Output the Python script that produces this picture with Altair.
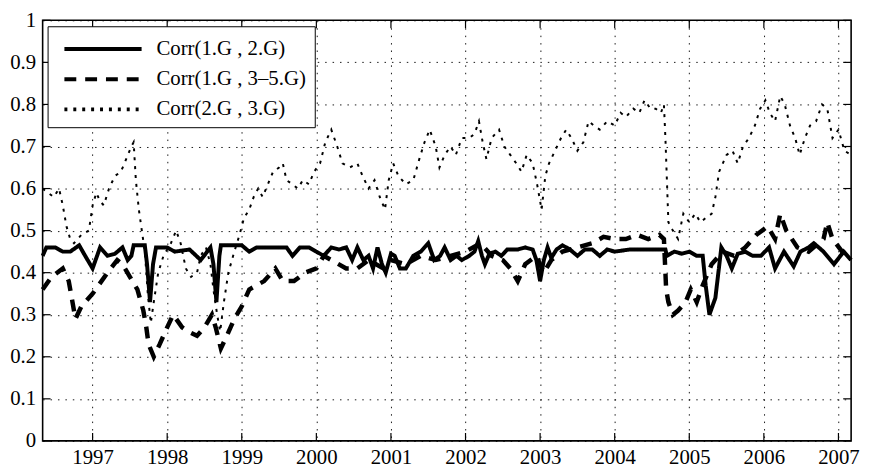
import altair as alt
import pandas as pd

series_names = ["Corr(1.G , 2.G)", "Corr(1.G , 3–5.G)", "Corr(2.G , 3.G)"]

# Corr(1.G , 2.G)  -- solid
s1_t = [1996.33, 1996.38, 1996.5, 1996.6, 1996.7, 1996.82, 1996.9, 1997.0, 1997.1, 1997.2,
        1997.3, 1997.4, 1997.47, 1997.52, 1997.55, 1997.7, 1997.73, 1997.77, 1997.81, 1997.85,
        1998.0, 1998.1, 1998.3, 1998.45, 1998.58, 1998.62, 1998.66, 1998.7, 1998.72, 1999.0,
        1999.1, 1999.2, 1999.5, 1999.6, 1999.68, 1999.78, 1999.9, 2000.0, 2000.1, 2000.2,
        2000.3, 2000.4, 2000.48, 2000.55, 2000.63, 2000.7, 2000.76, 2000.82, 2000.88, 2000.93,
        2001.0, 2001.05, 2001.12, 2001.2, 2001.3, 2001.4, 2001.5, 2001.58, 2001.66, 2001.72,
        2001.8, 2001.88, 2001.95, 2002.05, 2002.12, 2002.17, 2002.22, 2002.26, 2002.32, 2002.4,
        2002.48, 2002.56, 2002.7, 2002.8, 2002.9, 2002.95, 2003.0, 2003.05, 2003.1, 2003.15,
        2003.22, 2003.3, 2003.4, 2003.5, 2003.6, 2003.7, 2003.8, 2003.9, 2004.0, 2004.2,
        2004.4, 2004.6, 2004.68, 2004.7, 2004.8, 2004.9, 2005.0, 2005.1, 2005.18, 2005.22,
        2005.27, 2005.35, 2005.43, 2005.5, 2005.57, 2005.65, 2005.75, 2005.85, 2005.96, 2006.07,
        2006.15, 2006.27, 2006.4, 2006.49, 2006.6, 2006.67, 2006.8, 2006.94, 2007.07, 2007.17]
s1_v = [0.44, 0.46, 0.46, 0.45, 0.45, 0.465, 0.44, 0.41, 0.46, 0.44,
        0.445, 0.46, 0.43, 0.44, 0.465, 0.465, 0.42, 0.33, 0.42, 0.46,
        0.46, 0.45, 0.455, 0.43, 0.46, 0.42, 0.33, 0.44, 0.465, 0.465,
        0.45, 0.46, 0.46, 0.46, 0.44, 0.46, 0.46, 0.45, 0.44, 0.46,
        0.455, 0.46, 0.43, 0.46, 0.43, 0.44, 0.41, 0.46, 0.42, 0.40,
        0.445, 0.44, 0.41, 0.41, 0.44, 0.45, 0.47, 0.43, 0.44, 0.46,
        0.43, 0.44, 0.43, 0.44, 0.45, 0.475, 0.44, 0.42, 0.445, 0.45,
        0.44, 0.455, 0.455, 0.46, 0.455, 0.43, 0.38, 0.43, 0.46, 0.435,
        0.455, 0.465, 0.455, 0.44, 0.455, 0.455, 0.44, 0.455, 0.45, 0.455,
        0.455, 0.455, 0.455, 0.44, 0.45, 0.445, 0.45, 0.44, 0.44, 0.37,
        0.30, 0.34, 0.46, 0.44, 0.41, 0.445, 0.45, 0.44, 0.44, 0.46,
        0.41, 0.45, 0.415, 0.45, 0.46, 0.47, 0.45, 0.42, 0.45, 0.43]

# Corr(1.G , 3-5.G)  -- dashed
s2_t = [1996.33, 1996.45, 1996.6, 1996.68, 1996.77, 1996.85, 1997.0, 1997.2, 1997.33, 1997.4,
        1997.5, 1997.6, 1997.68, 1997.72, 1997.75, 1997.82, 1997.9, 1998.0, 1998.08, 1998.2,
        1998.28, 1998.4, 1998.5, 1998.6, 1998.65, 1998.72, 1998.8, 1998.9, 1999.0, 1999.1,
        1999.3, 1999.45, 1999.55, 1999.7, 1999.85, 2000.0, 2000.1, 2000.2, 2000.4, 2000.55,
        2000.7, 2000.9, 2001.0, 2001.2, 2001.4, 2001.6, 2001.8, 2002.0, 2002.2, 2002.35,
        2002.5, 2002.6, 2002.7, 2002.8, 2002.95, 2003.05, 2003.15, 2003.3, 2003.5, 2003.7,
        2003.85, 2004.0, 2004.15, 2004.3, 2004.45, 2004.6, 2004.66, 2004.69, 2004.72, 2004.78,
        2004.85, 2004.95, 2005.02, 2005.1, 2005.18, 2005.3, 2005.45, 2005.6, 2005.75, 2005.9,
        2006.05, 2006.15, 2006.22, 2006.3, 2006.45, 2006.6, 2006.8, 2006.85, 2006.92, 2007.05,
        2007.17]
s2_v = [0.36, 0.39, 0.41, 0.38, 0.29, 0.32, 0.35, 0.40, 0.43, 0.42,
        0.39, 0.36, 0.31, 0.27, 0.23, 0.20, 0.23, 0.27, 0.30, 0.27,
        0.26, 0.25, 0.27, 0.30, 0.27, 0.22, 0.25, 0.29, 0.32, 0.36,
        0.38, 0.41, 0.38, 0.38, 0.40, 0.41, 0.44, 0.43, 0.41, 0.41,
        0.43, 0.41, 0.43, 0.42, 0.44, 0.43, 0.44, 0.45, 0.47, 0.44,
        0.43, 0.41, 0.38, 0.42, 0.44, 0.40, 0.43, 0.45, 0.46, 0.47,
        0.485, 0.48, 0.48, 0.49, 0.48, 0.49, 0.48, 0.36, 0.33, 0.30,
        0.31, 0.33, 0.36, 0.33, 0.37, 0.42, 0.45, 0.44, 0.46, 0.49,
        0.51, 0.48, 0.54, 0.50, 0.46, 0.45, 0.48, 0.52, 0.48, 0.45,
        0.44]

# Corr(2.G , 3.G)  -- dotted
s3_t = [1996.33, 1996.4, 1996.48, 1996.55, 1996.6, 1996.65, 1996.7, 1996.75, 1996.85, 1996.95,
        1997.0, 1997.05, 1997.1, 1997.15, 1997.22, 1997.3, 1997.38, 1997.45, 1997.52, 1997.55,
        1997.58, 1997.62, 1997.66, 1997.7, 1997.74, 1997.78, 1997.82, 1997.88, 1997.95, 1998.05,
        1998.12, 1998.18, 1998.25, 1998.32, 1998.4, 1998.45, 1998.52, 1998.58, 1998.62, 1998.67,
        1998.71, 1998.76, 1998.82, 1998.9, 1998.97, 1999.03, 1999.1, 1999.16, 1999.22, 1999.28,
        1999.35, 1999.42, 1999.5, 1999.55, 1999.6, 1999.68, 1999.75, 1999.82, 1999.9, 1999.97,
        2000.05, 2000.12, 2000.2, 2000.28, 2000.35, 2000.45, 2000.55, 2000.62, 2000.7, 2000.78,
        2000.85, 2000.92, 2000.97, 2001.03, 2001.1, 2001.2, 2001.3, 2001.38, 2001.45, 2001.52,
        2001.6, 2001.65, 2001.72, 2001.8, 2001.87, 2001.95, 2002.05, 2002.12, 2002.18, 2002.23,
        2002.28, 2002.35, 2002.45, 2002.52, 2002.6, 2002.68, 2002.75, 2002.82, 2002.9, 2002.96,
        2003.02, 2003.07, 2003.12, 2003.2, 2003.28, 2003.35, 2003.42, 2003.5, 2003.58, 2003.65,
        2003.72, 2003.8, 2003.9, 2004.0, 2004.08, 2004.15, 2004.25, 2004.33, 2004.4, 2004.48,
        2004.55, 2004.62, 2004.66, 2004.68, 2004.7, 2004.72, 2004.78, 2004.85, 2004.92, 2005.0,
        2005.08, 2005.15, 2005.22, 2005.3, 2005.35, 2005.4, 2005.45, 2005.5, 2005.58, 2005.65,
        2005.72, 2005.8, 2005.88, 2005.95, 2006.02, 2006.08, 2006.15, 2006.22, 2006.28, 2006.35,
        2006.42, 2006.48, 2006.55, 2006.62, 2006.7, 2006.78, 2006.85, 2006.92, 2007.0, 2007.08,
        2007.17]
s3_v = [0.60, 0.59, 0.58, 0.60, 0.56, 0.51, 0.48, 0.47, 0.49, 0.50,
        0.56, 0.59, 0.57, 0.56, 0.60, 0.63, 0.64, 0.67, 0.70, 0.71,
        0.62, 0.55, 0.50, 0.45, 0.35, 0.28, 0.33, 0.40, 0.44, 0.47,
        0.50, 0.47, 0.41, 0.39, 0.40, 0.44, 0.46, 0.42, 0.36, 0.30,
        0.26, 0.33, 0.40, 0.45, 0.49, 0.53, 0.55, 0.58, 0.60, 0.58,
        0.61, 0.64, 0.65, 0.66, 0.62, 0.61, 0.60, 0.62, 0.61, 0.64,
        0.66, 0.71, 0.74, 0.70, 0.66, 0.65, 0.66, 0.63, 0.60, 0.62,
        0.58, 0.55, 0.62, 0.66, 0.63, 0.61, 0.62, 0.67, 0.71, 0.74,
        0.70, 0.65, 0.68, 0.70, 0.68, 0.72, 0.72, 0.73, 0.76, 0.71,
        0.67, 0.72, 0.74, 0.70, 0.68, 0.66, 0.64, 0.68, 0.66, 0.61,
        0.55, 0.63, 0.66, 0.69, 0.72, 0.74, 0.72, 0.69, 0.71, 0.76,
        0.75, 0.74, 0.76, 0.75, 0.78, 0.77, 0.79, 0.78, 0.81, 0.79,
        0.79, 0.78, 0.80, 0.72, 0.62, 0.52, 0.50, 0.48, 0.54, 0.52,
        0.54, 0.52, 0.53, 0.54, 0.58, 0.64, 0.66, 0.68, 0.69, 0.66,
        0.70, 0.72, 0.75, 0.79, 0.81, 0.78, 0.76, 0.82, 0.80, 0.75,
        0.72, 0.68, 0.72, 0.75, 0.76, 0.80, 0.79, 0.72, 0.74, 0.69,
        0.68]

x_ticks = list(range(1997, 2008))
y_ticks = [0.0, 0.1, 0.2, 0.3, 0.4, 0.5, 0.6, 0.7, 0.8, 0.9, 1.0]

rows = []
for name, ts, vs in zip(series_names, [s1_t, s2_t, s3_t], [s1_v, s2_v, s3_v]):
    for t, v in zip(ts, vs):
        rows.append({"t": t, "v": v, "series": name})
df = pd.DataFrame(rows)

W, H = 817, 425
FONT = "Liberation Serif"
x_dom = [1996.33, 2007.17]

xscale = alt.Scale(domain=x_dom, nice=False, zero=False)
yscale = alt.Scale(domain=[0, 1], nice=False, zero=True)

dash_scale = alt.Scale(domain=series_names, range=[[1, 0], [12, 9], [3, 6]])
widths = {series_names[0]: 4.0, series_names[1]: 4.5, series_names[2]: 2.0}

axis_common = dict(grid=True, tickSize=0, title=None, domain=False,
                   labelFont=FONT, labelFontSize=21, labelColor="black",
                   gridColor="black", gridDash=[1.5, 6], gridWidth=1, gridOpacity=0.9)
xaxis = alt.Axis(values=x_ticks, format="d", labelPadding=6, labelFlush=False,
                 labelBaseline="top", **axis_common)
yaxis = alt.Axis(values=y_ticks, format=".1~f", labelPadding=7, **axis_common)

layers = []
for name in reversed(series_names):
    layers.append(
        alt.Chart(df).transform_filter(alt.datum.series == name)
        .mark_line(color="black", strokeWidth=widths[name], strokeCap="butt", strokeJoin="miter")
        .encode(
            x=alt.X("t:Q", scale=xscale, axis=xaxis),
            y=alt.Y("v:Q", scale=yscale, axis=yaxis),
            strokeDash=alt.StrokeDash("series:N", scale=dash_scale, title=None,
                                      legend=alt.Legend(orient="none", legendX=5, legendY=6)),
            order="t:Q",
        )
    )

xt = pd.DataFrame({"t": x_ticks})
yt = pd.DataFrame({"v": y_ticks})
tick_bot = alt.Chart(xt).mark_rule(color="black", strokeWidth=1.2).encode(
    x=alt.X("t:Q", scale=xscale, axis=xaxis), y=alt.value(H), y2=alt.value(H - 8))
tick_top = alt.Chart(xt).mark_rule(color="black", strokeWidth=1.2).encode(
    x=alt.X("t:Q", scale=xscale, axis=xaxis), y=alt.value(0), y2=alt.value(8))
tick_left = alt.Chart(yt).mark_rule(color="black", strokeWidth=1.2).encode(
    y=alt.Y("v:Q", scale=yscale, axis=yaxis), x=alt.value(0), x2=alt.value(8))
tick_right = alt.Chart(yt).mark_rule(color="black", strokeWidth=1.2).encode(
    y=alt.Y("v:Q", scale=yscale, axis=yaxis), x=alt.value(W), x2=alt.value(W - 8))

chart = alt.layer(*layers, tick_bot, tick_top, tick_left, tick_right).properties(
    width=W, height=H,
    autosize=alt.AutoSizeParams(type="none"),
    padding={"left": 35, "top": 10, "right": 12, "bottom": 30},
    background="white",
).configure_view(
    stroke="black", strokeWidth=1.6
).configure_axis(
    labelFont=FONT, labelFontSize=21, labelColor="black",
).configure_legend(
    strokeColor="black", fillColor="white", padding=8, cornerRadius=0,
    symbolType="M-1,0H5", symbolSize=676, symbolStrokeWidth=4, symbolStrokeColor="black",
    symbolFillColor="transparent",
    symbolOffset=7, labelFont=FONT, labelFontSize=21, labelColor="black", labelOffset=65,
    rowPadding=5.5, labelLimit=400,
)

chart.save("out.html", embed_options={"renderer": "svg", "actions": False})
